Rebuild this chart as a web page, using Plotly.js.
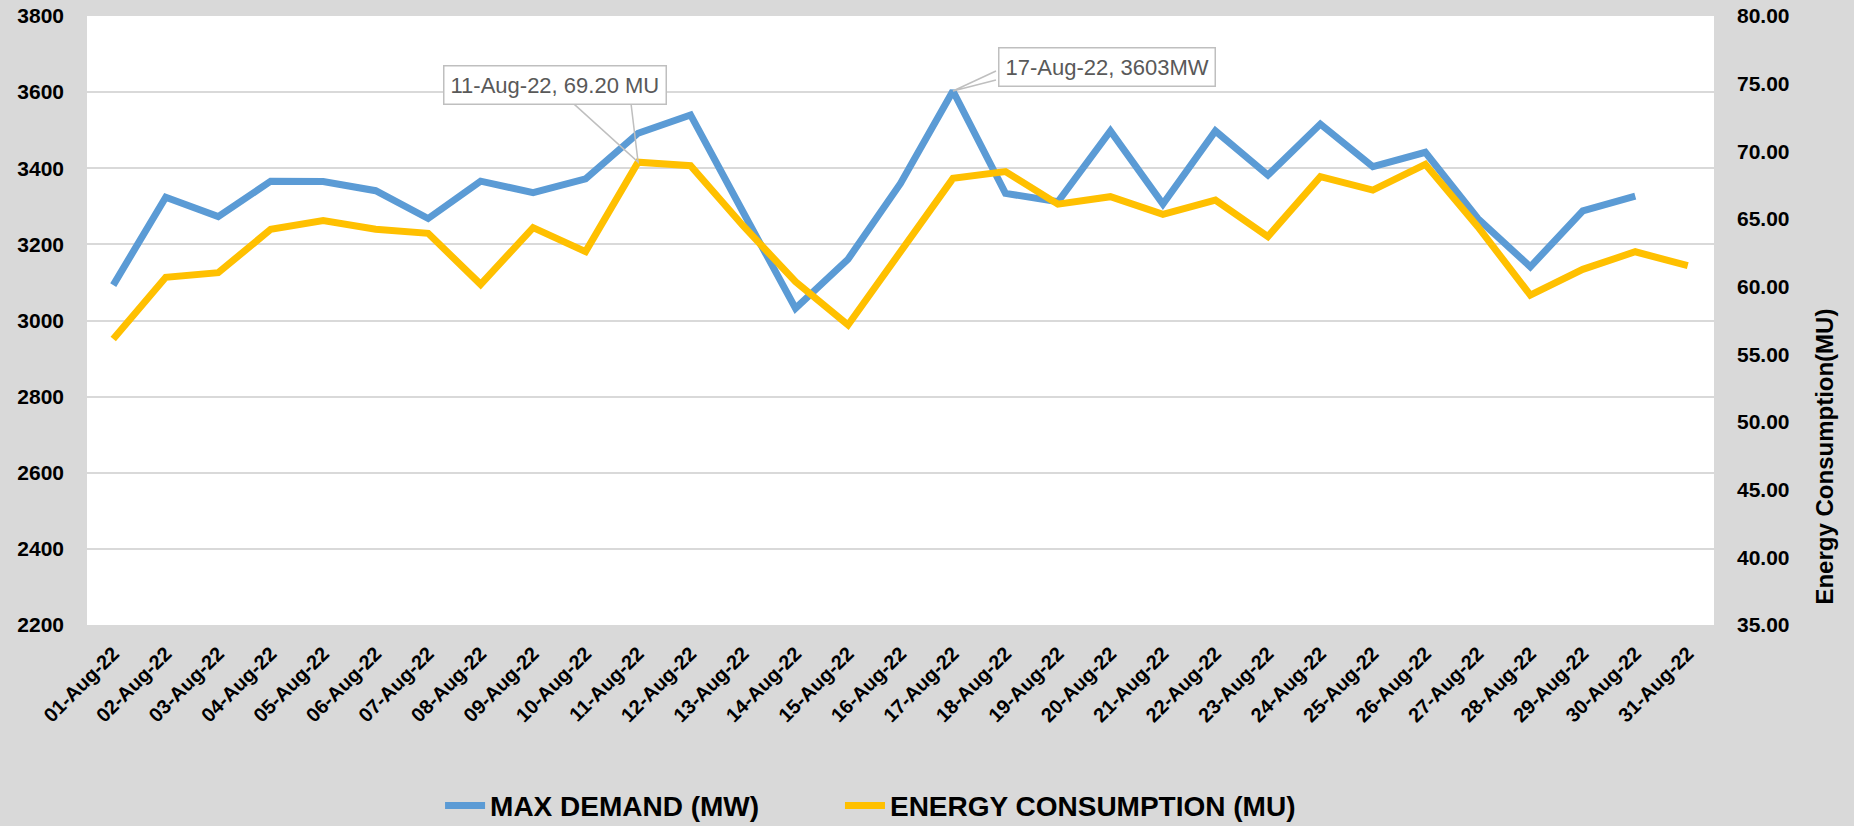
<!DOCTYPE html>
<html>
<head>
<meta charset="utf-8">
<script src="https://cdn.plot.ly/plotly-3.0.1.min.js"></script>
<style>html,body{margin:0;padding:0;background:#d9d9d9;}#chart{width:1854px;height:826px;}</style>
</head>
<body>
<div id="chart"></div>
<script>
const dates = ['01-Aug-22','02-Aug-22','03-Aug-22','04-Aug-22','05-Aug-22','06-Aug-22','07-Aug-22','08-Aug-22','09-Aug-22','10-Aug-22','11-Aug-22','12-Aug-22','13-Aug-22','14-Aug-22','15-Aug-22','16-Aug-22','17-Aug-22','18-Aug-22','19-Aug-22','20-Aug-22','21-Aug-22','22-Aug-22','23-Aug-22','24-Aug-22','25-Aug-22','26-Aug-22','27-Aug-22','28-Aug-22','29-Aug-22','30-Aug-22','31-Aug-22'];
const maxDemandMW = [3093,3324,3273,3366,3365,3341,3268,3366,3336,3372,3492,3540,3285,3032,3161,3360,3603,3334,3312,3498,3306,3498,3382,3516,3404,3442,3268,3141,3288,3327,null];
const energyMU = [56.13,60.69,61.03,64.24,64.88,64.24,63.94,60.17,64.36,62.59,69.20,68.94,64.5,60.37,57.17,62.64,68.0,68.5,66.1,66.65,65.35,66.4,63.7,68.13,67.14,69.04,64.43,59.38,61.28,62.58,61.55];
const leftTicks = [2200,2400,2600,2800,3000,3200,3400,3600,3800];
const rightTicks = [35,40,45,50,55,60,65,70,75,80];
const seriesNames = ['MAX DEMAND (MW)','ENERGY CONSUMPTION (MU)'];
const rightTitle = 'Energy Consumption(MU)';
const callout1 = {idx: 10, text: dates[10] + ', ' + energyMU[10].toFixed(2) + ' MU'};
const callout2 = {idx: 16, text: dates[16] + ', ' + maxDemandMW[16] + 'MW'};

const FONT = '"Liberation Sans", Arial, sans-serif';
const traces = [
  {x: dates, y: maxDemandMW, name: seriesNames[0], type: 'scatter', mode: 'lines', legend: 'legend',
   line: {color: '#5b9bd5', width: 7, shape: 'linear'}, connectgaps: false},
  {x: dates, y: energyMU, name: seriesNames[1], type: 'scatter', mode: 'lines', yaxis: 'y2', legend: 'legend2',
   line: {color: '#ffc000', width: 7, shape: 'linear'}}
];

const legendFont = {family: FONT, size: 28, color: '#000', weight: 'bold'};
const layout = {
  width: 1854, height: 826,
  paper_bgcolor: '#d9d9d9', plot_bgcolor: '#ffffff',
  margin: {l: 87, r: 140, t: 16, b: 201, pad: 0, autoexpand: false},
  font: {family: FONT, color: '#000000'},
  showlegend: true,
  legend: {orientation: 'h', x: 0.217, xanchor: 'left', y: -0.297, yanchor: 'middle',
           font: legendFont, bgcolor: 'rgba(0,0,0,0)', itemwidth: 40},
  legend2: {orientation: 'h', x: 0.4628, xanchor: 'left', y: -0.297, yanchor: 'middle',
           font: legendFont, bgcolor: 'rgba(0,0,0,0)', itemwidth: 40},
  xaxis: {type: 'category', range: [-0.5, dates.length - 0.5], showgrid: false, zeroline: false,
          showline: false, ticks: '', tickangle: -45, ticklabelstandoff: 12, automargin: false,
          tickfont: {family: FONT, size: 20, color: '#000', weight: 'bold'}, fixedrange: true},
  yaxis: {range: [2200, 3800], tickvals: leftTicks, ticktext: leftTicks.map(String), showgrid: true,
          gridcolor: '#d9d9d9', gridwidth: 2, zeroline: false, showline: false, ticks: '',
          ticklabelstandoff: 22, automargin: false,
          tickfont: {family: FONT, size: 21, color: '#000', weight: 'bold'}},
  yaxis2: {overlaying: 'y', side: 'right', range: [35, 80], tickvals: rightTicks,
           ticktext: rightTicks.map(v => v.toFixed(2)), showgrid: false, zeroline: false,
           showline: false, ticks: '', ticklabelstandoff: 22, automargin: false,
           tickfont: {family: FONT, size: 21, color: '#000', weight: 'bold'}},
  annotations: [
    {x: dates[callout1.idx], y: energyMU[callout1.idx], xref: 'x', yref: 'y2', text: callout1.text,
     showarrow: true, arrowcolor: 'rgba(0,0,0,0)', ax: -83, ay: -77,
     font: {family: FONT, size: 22, color: '#595959'}, bgcolor: '#ffffff', bordercolor: '#bfbfbf',
     borderwidth: 1.5, borderpad: 6},
    {x: dates[callout2.idx], y: maxDemandMW[callout2.idx], xref: 'x', yref: 'y', text: callout2.text,
     showarrow: true, arrowcolor: 'rgba(0,0,0,0)', ax: 154, ay: -24,
     font: {family: FONT, size: 22, color: '#595959'}, bgcolor: '#ffffff', bordercolor: '#bfbfbf',
     borderwidth: 1.5, borderpad: 6},
    {x: 1.068, y: 0.276, xref: 'paper', yref: 'paper', text: rightTitle, textangle: -90,
     showarrow: false, xanchor: 'center', yanchor: 'middle',
     font: {family: FONT, size: 24, color: '#000', weight: 'bold'}}
  ],
  shapes: [
    {type: 'path', xref: 'x', yref: 'y2', xsizemode: 'pixel', ysizemode: 'pixel',
     xanchor: dates[callout1.idx], yanchor: energyMU[callout1.idx],
     path: 'M -64 58 L 0 0 L -7 58', line: {color: '#bfbfbf', width: 1.5}, layer: 'above'},
    {type: 'path', xref: 'x', yref: 'y', xsizemode: 'pixel', ysizemode: 'pixel',
     xanchor: dates[callout2.idx], yanchor: maxDemandMW[callout2.idx],
     path: 'M 43 20 L 0 0 L 43 11', line: {color: '#bfbfbf', width: 1.5}, layer: 'above'}
  ]
};

Plotly.newPlot('chart', traces, layout, {staticPlot: true, displayModeBar: false});
</script>
</body>
</html>
